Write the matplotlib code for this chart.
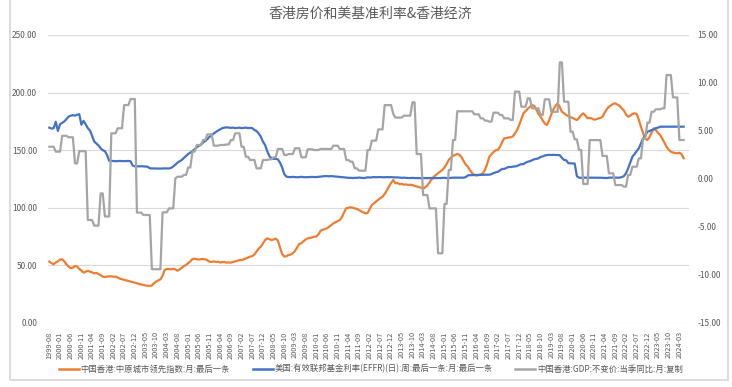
import numpy as np
import pandas as pd
import matplotlib
matplotlib.use("Agg")
import matplotlib.pyplot as plt
from matplotlib.lines import Line2D
from matplotlib.patches import Rectangle
from matplotlib.ticker import FormatStrFormatter

plt.rcParams['font.family'] = ['Noto Sans CJK SC', 'DejaVu Sans']

# monthly categories, 1999-08 .. 2024-05
months = [p.strftime('%Y-%m') for p in pd.period_range('1999-08', '2024-05', freq='M')]

# 中原城市领先指数 (left axis)
ccl = [
    53.2, 52.0, 51.0, 52.5, 53.5,
    55.0, 55.3, 53.5, 51.0, 49.0, 47.5, 48.0, 49.5, 49.0, 47.0, 45.5, 43.7,
    44.5, 45.4, 44.5, 44.0, 43.0, 43.5, 42.5, 41.5, 40.2, 40.0, 40.3, 40.5,
    40.5, 40.2, 40.2, 39.5, 38.5, 38.0, 37.5, 37.0, 36.5, 36.0, 35.5, 35.0,
    34.5, 33.8, 33.5, 33.0, 32.6, 32.4, 32.2, 32.6, 34.5, 35.9, 37.0, 37.9,
    41.0, 46.0, 47.0, 46.8, 46.5, 47.1, 46.5, 45.4, 46.5, 48.0, 49.5, 50.3,
    52.0, 53.5, 55.5, 55.8, 55.5, 55.0, 55.5, 55.5, 55.2, 54.5, 53.2, 53.0,
    53.5, 53.0, 53.2, 52.5, 52.8, 53.0, 52.4, 52.6, 52.4, 53.0, 53.5, 54.0,
    54.7, 54.5, 55.2, 56.0, 56.8, 57.6, 58.0, 59.5, 62.0, 64.5, 66.3, 69.0,
    72.0, 73.5, 72.8, 72.0, 72.5, 73.2, 71.5, 65.5, 60.0, 57.6, 58.0, 59.0,
    59.5, 60.5, 62.5, 65.5, 68.6, 69.2, 71.0, 72.5, 73.5, 73.8, 74.3, 74.9,
    75.0, 77.0, 80.1, 81.0, 81.5, 82.2, 83.5, 85.0, 86.5, 87.5, 88.5, 89.4,
    92.0, 96.0, 99.6, 100.0, 100.5, 100.1, 99.5, 99.0, 98.0, 97.0, 96.0, 95.2,
    95.5, 99.0, 102.4, 104.0, 105.5, 107.0, 108.5, 109.6, 112.0, 115.0, 118.5, 121.5,
    124.1, 121.3, 121.5, 120.5, 120.8, 120.0, 120.3, 119.8, 120.0, 119.8, 119.0, 118.5,
    118.0, 117.5, 116.5, 117.8, 119.5, 122.0, 125.0, 127.0, 128.5, 130.0, 131.5, 132.8,
    135.0, 138.0, 141.5, 143.5, 145.0, 146.0, 146.7, 146.0, 144.0, 140.5, 137.5, 135.7,
    132.5, 130.0, 128.5, 128.0, 128.5, 129.0, 129.9, 133.0, 138.0, 144.4, 146.5, 148.5,
    150.0, 150.2, 153.0, 157.0, 160.3, 160.5, 161.0, 161.2, 162.0, 164.5, 167.5, 172.0,
    177.0, 182.0, 184.0, 186.0, 187.5, 189.2, 188.5, 185.5, 181.5, 179.0, 176.0, 173.0,
    171.9, 176.0, 181.0, 185.5, 188.5, 190.7, 187.5, 183.4, 182.0, 180.6, 179.5, 178.5,
    178.0, 177.0, 176.2, 178.0, 180.5, 182.0, 180.0, 177.7, 178.0, 177.5, 176.5, 176.8,
    177.5, 178.0, 179.0, 182.5, 185.5, 187.8, 189.0, 190.2, 190.7, 189.5, 188.5, 186.3,
    184.5, 181.0, 179.0, 180.0, 181.5, 182.0, 181.5, 176.5, 170.4, 165.0, 160.0, 158.9,
    161.2, 165.5, 169.0, 167.5, 165.0, 163.2, 160.0, 156.5, 153.0, 150.5, 148.7, 148.0,
    147.5, 147.3, 147.8, 146.5, 143.0,
]

# 有效联邦基金利率 (right axis)
effr = [
    5.35, 5.25, 5.3, 5.95, 5.0,
    5.7, 5.85, 6.0, 6.25, 6.5, 6.6, 6.65, 6.6, 6.7, 6.75, 5.65, 6.05,
    5.7, 5.3, 5.05, 4.5, 3.9, 3.7, 3.5, 3.2, 3.0, 2.9, 2.5, 1.9,
    1.87, 1.88, 1.85, 1.87, 1.88, 1.87, 1.86, 1.87, 1.88, 1.85, 1.4, 1.32,
    1.33, 1.32, 1.33, 1.32, 1.3, 1.28, 1.12, 1.1, 1.1, 1.11, 1.09, 1.08,
    1.1, 1.1, 1.1, 1.1, 1.15, 1.3, 1.5, 1.7, 1.85, 1.98, 2.2, 2.4,
    2.6, 2.75, 2.9, 3.1, 3.3, 3.45, 3.6, 3.8, 3.95, 4.15, 4.4, 4.55,
    4.75, 4.9, 5.05, 5.17, 5.3, 5.35, 5.38, 5.35, 5.33, 5.35, 5.3, 5.32,
    5.35, 5.3, 5.33, 5.35, 5.3, 5.33, 5.3, 5.1, 5.0, 4.75, 4.4, 3.9,
    3.54, 2.9, 2.4, 2.15, 2.1, 2.1, 2.05, 1.7, 1.2, 0.5, 0.25, 0.2,
    0.2, 0.22, 0.2, 0.18, 0.2, 0.22, 0.2, 0.18, 0.2, 0.2, 0.22, 0.2,
    0.2, 0.22, 0.25, 0.28, 0.3, 0.3, 0.28, 0.3, 0.28, 0.25, 0.25, 0.22,
    0.2, 0.18, 0.15, 0.12, 0.12, 0.1, 0.12, 0.12, 0.15, 0.12, 0.1, 0.12,
    0.18, 0.15, 0.18, 0.2, 0.18, 0.2, 0.2, 0.18, 0.18, 0.2, 0.18, 0.2,
    0.18, 0.16, 0.17, 0.15, 0.12, 0.14, 0.12, 0.1, 0.1, 0.12, 0.1, 0.1,
    0.1, 0.08, 0.1, 0.1, 0.08, 0.1, 0.1, 0.08, 0.1, 0.1, 0.1, 0.12,
    0.12, 0.1, 0.1, 0.12, 0.14, 0.14, 0.15, 0.15, 0.14, 0.14, 0.2, 0.38,
    0.4, 0.4, 0.42, 0.42, 0.42, 0.42, 0.44, 0.44, 0.45, 0.45, 0.5, 0.62,
    0.7, 0.75, 0.9, 1.05, 1.05, 1.15, 1.25, 1.25, 1.28, 1.3, 1.35, 1.46,
    1.55, 1.55, 1.7, 1.8, 1.85, 1.95, 2.05, 2.1, 2.15, 2.3, 2.35, 2.45,
    2.5, 2.52, 2.5, 2.52, 2.5, 2.5, 2.48, 2.2, 1.98, 1.95, 1.65, 1.63,
    1.63, 1.6, 0.3, 0.14, 0.12, 0.14, 0.14, 0.15, 0.14, 0.15, 0.14, 0.14,
    0.14, 0.13, 0.12, 0.12, 0.1, 0.14, 0.15, 0.15, 0.14, 0.14, 0.14, 0.2,
    0.3, 0.59, 1.1, 1.7, 2.32, 2.6, 2.9, 3.2, 3.7, 4.24, 4.5, 4.93,
    5.0, 5.1, 5.17, 5.3, 5.35, 5.45, 5.45, 5.45, 5.45, 5.45, 5.45, 5.45,
    5.45, 5.45, 5.45, 5.45, 5.45,
]

# 香港GDP不变价当季同比, copied to months (right axis)
gdp = [
    3.36, 3.36, 3.36, 2.85, 2.85,
    2.85, 4.5, 4.5, 4.5, 4.35, 4.35, 4.35, 1.63, 1.63, 2.9, 2.9, 2.9,
    2.9, -4.27, -4.27, -4.27, -4.86, -4.86, -4.86, -1.5, -1.5, -3.9, -3.9, -3.9,
    4.76, 4.76, 4.76, 5.28, 5.28, 5.28, 7.7, 7.7, 7.7, 8.33, 8.33, 8.33,
    -3.5, -3.5, -3.5, -3.75, -3.75, -3.75, -3.75, -9.4, -9.4, -9.4, -9.4, -9.4,
    -3.47, -3.47, -3.47, -3.06, -3.06, -3.06, 0.07, 0.24, 0.24, 0.24, 0.42, 0.42,
    1.2, 1.2, 2.85, 2.85, 3.54, 3.54, 3.54, 4.06, 4.06, 4.65, 4.65, 4.65,
    3.47, 3.47, 3.47, 3.54, 3.54, 3.54, 3.6, 3.6, 4.06, 4.06, 4.76, 4.76,
    4.76, 3.36, 3.36, 2.32, 2.32, 1.98, 1.98, 1.98, 1.11, 1.11, 1.11, 1.98,
    1.98, 1.98, 2.05, 2.05, 2.26, 2.26, 3.13, 3.13, 3.13, 2.5, 2.5, 2.6,
    2.6, 2.6, 3.2, 3.2, 3.2, 2.26, 2.26, 2.26, 3.1, 3.1, 3.1, 3.02,
    3.02, 3.02, 3.13, 3.13, 3.13, 3.13, 3.13, 3.13, 3.47, 3.47, 3.47, 3.13,
    3.13, 3.13, 1.98, 1.98, 1.8, 1.8, 1.11, 1.11, 0.87, 0.87, 0.87, 0.87,
    3.02, 3.02, 4.0, 4.0, 4.0, 5.17, 5.17, 5.17, 7.7, 7.7, 7.7, 7.7,
    6.8, 6.4, 6.4, 6.4, 6.4, 6.6, 6.6, 6.6, 6.6, 7.99, 7.99, 2.6,
    2.6, 2.6, -1.67, -1.67, -1.67, -3.06, -3.06, -3.06, -3.06, -7.74, -7.74, -7.74,
    -2.6, -2.6, 0.94, 0.94, 4.06, 4.06, 7.05, 7.05, 7.05, 7.05, 7.05, 7.05,
    7.05, 7.05, 6.74, 6.74, 6.74, 6.32, 6.32, 6.08, 6.08, 5.97, 5.97, 6.91,
    6.91, 6.91, 6.67, 6.67, 6.32, 6.32, 6.32, 6.15, 6.15, 9.1, 9.1, 9.1,
    7.53, 7.53, 7.53, 8.4, 8.4, 7.36, 7.36, 7.36, 7.36, 6.67, 6.67, 8.3,
    8.3, 8.3, 7.0, 7.0, 7.0, 7.0, 12.15, 12.15, 8.05, 8.05, 8.05, 4.93,
    4.93, 4.13, 4.13, 3.02, 3.02, -0.52, -0.52, -0.52, 4.05, 4.05, 4.05, 4.05,
    4.05, 4.05, 2.4, 2.4, 2.4, 0.59, 0.59, 0.59, -0.63, -0.63, -0.63, -0.63,
    -0.8, -0.8, 0.42, 0.42, 1.28, 1.28, 1.28, 2.15, 2.15, 4.24, 4.24, 5.87,
    5.87, 7.0, 7.0, 7.26, 7.26, 7.26, 7.36, 7.36, 10.83, 10.83, 10.83, 8.5,
    8.5, 8.5, 4.06, 4.06, 4.06,
]

names = ['中国香港:中原城市领先指数:月:最后一条',
         '美国:有效联邦基金利率(EFFR)(日):周:最后一条:月:最后一条',
         '中国香港:GDP:不变价:当季同比:月:复制']
colors = ['#ED7D31', '#4472C4', '#A5A5A5']
txt = '#595959'

W, H = 732, 387
fig = plt.figure(figsize=(W / 100, H / 100), dpi=100)

# chart area border
fig.add_artist(Rectangle((10 / W, 7 / H), 718 / W, 390 / H, fill=False,
                         ec='#d9d9d9', lw=1.3, transform=fig.transFigure))

fig.text(370 / W, 1 - 14 / H, '香港房价和美基准利率&香港经济', ha='center', va='center',
         fontsize=10, color=txt)

ax = fig.add_axes([48.3 / W, 64 / H, 640.7 / W, 288 / H])
x = np.arange(len(ccl))
ax.plot(x, ccl, color=colors[0], lw=1.6, solid_joinstyle='round')
ax.set_xlim(-0.5, 299.5)
ax.set_ylim(0, 250)
ax.set_yticks(range(0, 251, 50))
ax.yaxis.set_major_formatter(FormatStrFormatter('%.2f'))
ax.grid(axis='y', color='#d9d9d9', lw=0.8)
ax.set_axisbelow(True)
ax.set_xticks(range(0, len(months), 5))
ax.set_xticklabels(months[::5], rotation=90, fontsize=5.3, color=txt)
ax.tick_params(axis='x', length=0, pad=6)
ax.tick_params(axis='y', length=0, pad=8, labelsize=6, labelcolor=txt)
for s in ax.spines.values():
    s.set_visible(False)

ax2 = ax.twinx()
ax2.plot(x, effr, color=colors[1], lw=1.6, solid_joinstyle='round')
ax2.plot(x, gdp, color=colors[2], lw=1.6, solid_joinstyle='round')
ax2.set_ylim(-15, 15)
ax2.set_yticks(range(-15, 16, 5))
ax2.yaxis.set_major_formatter(FormatStrFormatter('%.2f'))
ax2.tick_params(axis='y', length=0, pad=6, labelsize=6, labelcolor=txt)
for s in ax2.spines.values():
    s.set_visible(False)

handles = [Line2D([], [], color=c, lw=1.8) for c in colors]
leg = fig.legend(handles, names, loc='center', bbox_to_anchor=(371 / W, 1 - 369 / H),
                 ncol=3, frameon=False, fontsize=6.0, handlelength=2.4,
                 handletextpad=0.25, columnspacing=2.7)
for t in leg.get_texts():
    t.set_color(txt)

fig.savefig('out.png', dpi=100)
